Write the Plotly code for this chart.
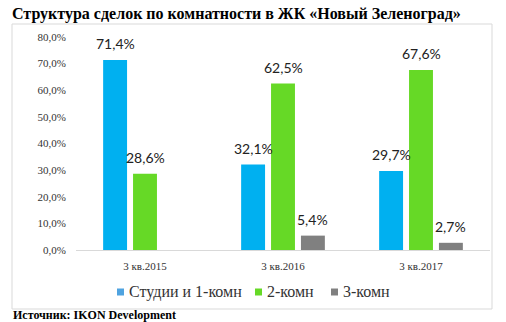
import plotly.graph_objects as go

# Доли сделок по типу квартир, в процентах
periods = ["3 кв.2015", "3 кв.2016", "3 кв.2017"]
series_names = ["Студии и 1-комн", "2-комн", "3-комн"]
studio_1room = [71.4, 32.1, 29.7]
two_room = [28.6, 62.5, 67.6]
three_room = [None, 5.4, 2.7]
y_ticks = [0, 10, 20, 30, 40, 50, 60, 70, 80]

colors = ["#00B0F0", "#66D926", "#808080"]
legend_colors = ["#4FA3E0", "#66D926", "#808080"]
values = [studio_1room, two_room, three_room]

# plot area geometry in px (used to convert positions to paper units)
W, H = 506, 322
L, R, T, B = 76, 16, 37, 72
pw, ph = W - L - R, H - T - B


def px_x(x):
    return (x - L) / pw


def px_y(y):
    return (H - B - y) / ph


fig = go.Figure()
for name, vals, col in zip(series_names, values, colors):
    fig.add_trace(go.Bar(
        x=periods, y=vals, name=name, showlegend=False,
        marker=dict(color=col, line=dict(width=0)),
    ))

# value labels above each bar
slot = pw / 3 * (1 - 0.35) / 3
for i, vals in enumerate(values):
    shift = (i - 1) * slot
    for p, v in zip(periods, vals):
        if v is None:
            continue
        fig.add_annotation(
            x=p, y=v, xref="x", yref="y", xshift=shift, yshift=6,
            text=f"{v:.1f}%".replace(".", ","), showarrow=False,
            yanchor="bottom", xanchor="center",
            font=dict(family="Lato", size=14, color="#222222"),
        )

# legend row below the axis: small squares followed by series names
legend_x = [117, 255, 331]
for name, col, lx in zip(series_names, legend_colors, legend_x):
    fig.add_shape(type="rect", xref="paper", yref="paper",
                  x0=px_x(lx), x1=px_x(lx + 7),
                  y0=px_y(295.5), y1=px_y(288.5),
                  line=dict(width=0), fillcolor=col)
    fig.add_annotation(
        xref="paper", yref="paper", x=px_x(lx + 10), y=px_y(291.5),
        xanchor="left", yanchor="middle", showarrow=False, text=name,
        font=dict(family="Liberation Serif", size=16, color="#333333"),
    )

# chart frame
fig.add_shape(type="rect", xref="paper", yref="paper",
              x0=px_x(12), x1=px_x(492), y0=px_y(309), y1=px_y(24),
              line=dict(color="#D9D9D9", width=1), fillcolor="rgba(0,0,0,0)",
              layer="below")

# source note
fig.add_annotation(
    xref="paper", yref="paper", x=px_x(11), y=px_y(315),
    xanchor="left", yanchor="middle", showarrow=False,
    text="<b>Источник: IKON Development</b>",
    font=dict(family="Liberation Serif", size=12, color="#000000"),
)

fig.update_layout(
    width=W, height=H,
    margin=dict(l=L, r=R, t=T, b=B, pad=0),
    paper_bgcolor="white", plot_bgcolor="white",
    barmode="group", bargap=0.35, bargroupgap=0.2,
    showlegend=False,
    title=dict(
        text="<b>Структура сделок по комнатности в ЖК «Новый Зеленоград»</b>",
        xref="container", yref="container",
        x=12 / W, xanchor="left", y=1 - 13 / H, yanchor="middle",
        font=dict(family="Liberation Serif", size=16, color="#000000"),
    ),
    xaxis=dict(
        showgrid=False, showline=True, linecolor="#D9D9D9", linewidth=1,
        ticks="outside", ticklen=6, tickcolor="rgba(0,0,0,0)",
        tickfont=dict(family="Liberation Serif", size=11, color="#333333"),
    ),
    yaxis=dict(
        range=[0, 80], tickvals=y_ticks,
        ticktext=[f"{t:.1f}%".replace(".", ",") for t in y_ticks],
        showgrid=False, zeroline=False, showline=False,
        ticks="outside", ticklen=7, tickcolor="rgba(0,0,0,0)",
        tickfont=dict(family="Liberation Serif", size=11, color="#333333"),
    ),
)

fig.write_html("out.html")
